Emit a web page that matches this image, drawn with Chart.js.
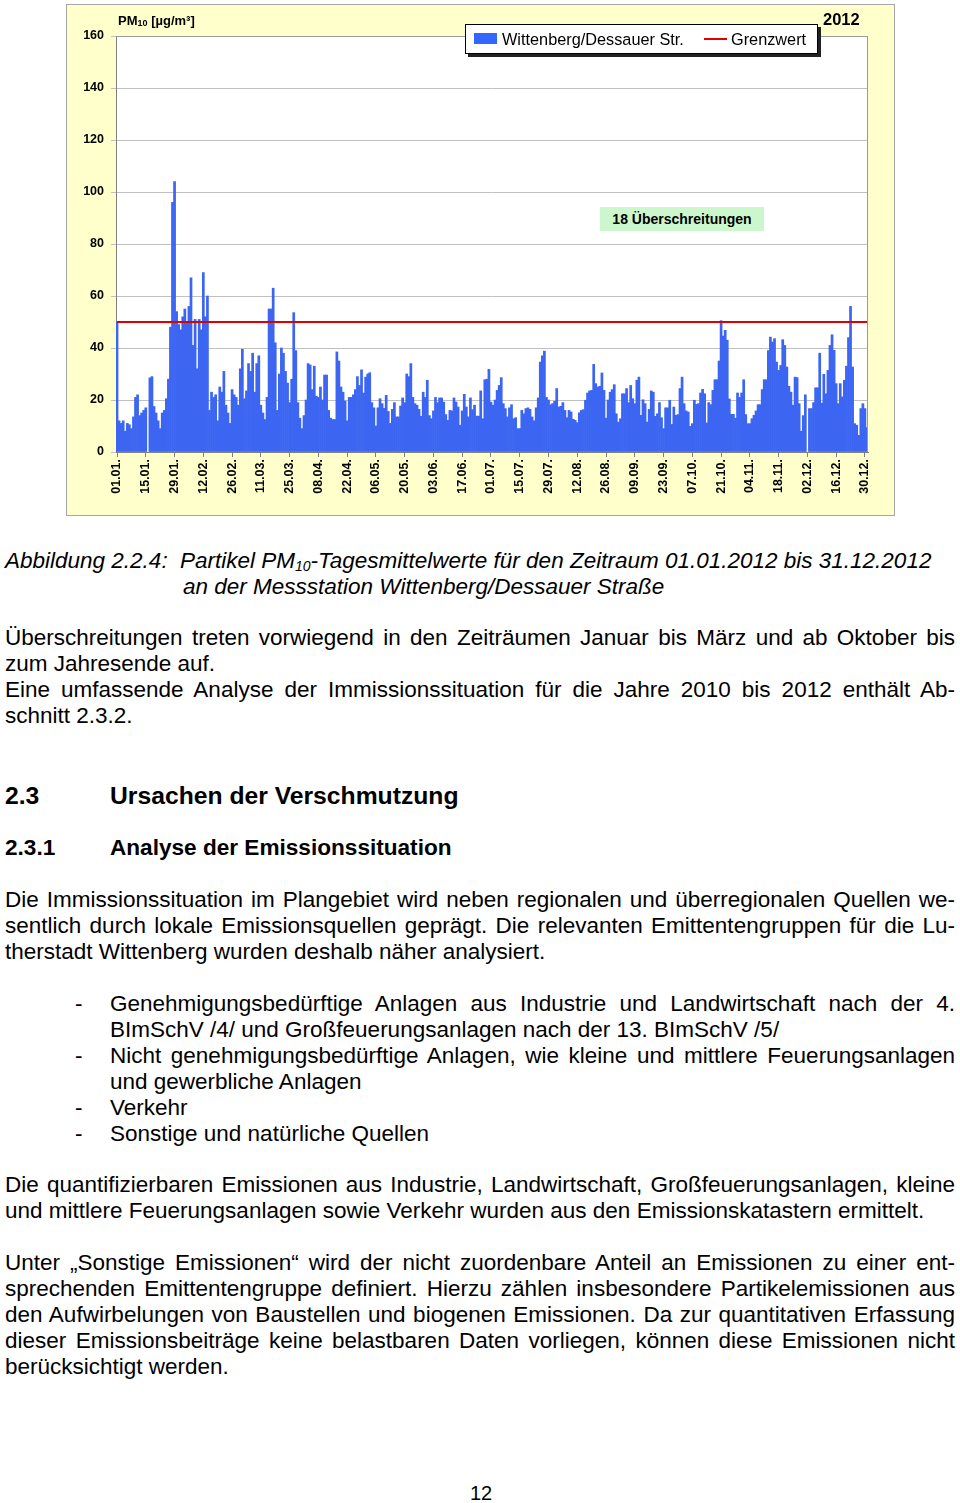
<!DOCTYPE html>
<html><head><meta charset="utf-8">
<script src="https://cdn.jsdelivr.net/npm/chart.js@4.4.1/dist/chart.umd.min.js"></script>
<style>
html,body{margin:0;padding:0;background:#fff;}
body{width:960px;height:1503px;position:relative;overflow:hidden;font-family:"Liberation Sans",Arial,sans-serif;color:#000;}
#chartWrap{position:absolute;left:66px;top:4px;width:829px;height:512px;}
canvas{display:block;}
.ov{position:absolute;white-space:nowrap;}
.pm{left:118px;top:13px;font-size:13px;font-weight:bold;}
.pm sub{font-size:9px;vertical-align:-1px;line-height:0;}
.yr{left:823px;top:10px;font-size:16.5px;font-weight:bold;}
#legend{position:absolute;left:465px;top:24px;width:351px;height:28px;border:1px solid #000;box-shadow:3px 3px 0 #222;background:#fff;}
#legend span{position:absolute;}
#legend .lt{top:0;line-height:28px;font-size:16.3px;white-space:nowrap;}
.green{left:600px;top:207px;width:164px;height:24px;line-height:24px;background:#ccf7cc;text-align:center;font-size:14px;font-weight:bold;}
.txt{position:absolute;left:5px;width:950px;font-size:22.5px;line-height:26px;}
.txt div{white-space:nowrap;}
.j{text-align:justify;text-align-last:justify;}
.cap{font-style:italic;}
.cap sub{font-size:14px;vertical-align:-3px;line-height:0;}
.h{position:absolute;left:5px;font-weight:bold;line-height:26px;white-space:nowrap;}
.h .n{display:inline-block;width:105px;}
.list{position:absolute;left:110px;width:845px;font-size:22.5px;line-height:26px;}
.list div{white-space:nowrap;position:relative;}
.dash{position:absolute;left:-35px;}
</style>
</head><body>
<div id="chartWrap"><canvas id="c" width="829" height="512"></canvas></div>
<div class="ov pm">PM<sub>10</sub> [µg/m³]</div>
<div class="ov yr">2012</div>
<div id="legend">
  <span style="left:8px;top:8px;width:23px;height:11px;background:#3366ff;"></span>
  <span class="lt" style="left:36px;">Wittenberg/Dessauer Str.</span>
  <span style="left:238px;top:13px;width:23px;height:2px;background:#e00000;"></span>
  <span class="lt" style="left:265px;">Grenzwert</span>
</div>
<div class="ov green">18 Überschreitungen</div>

<div class="txt cap" style="top:548px;">
  <div><span style="display:inline-block;width:175px;">Abbildung 2.2.4:</span>Partikel PM<sub>10</sub>-Tagesmittelwerte für den Zeitraum 01.01.2012 bis 31.12.2012</div>
  <div style="padding-left:178px;">an der Messstation Wittenberg/Dessauer Straße</div>
</div>

<div class="txt" style="top:625px;">
  <div class="j">Überschreitungen treten vorwiegend in den Zeiträumen Januar bis März und ab Oktober bis</div>
  <div>zum Jahresende auf.</div>
  <div class="j">Eine umfassende Analyse der Immissionssituation für die Jahre 2010 bis 2012 enthält Ab-</div>
  <div>schnitt 2.3.2.</div>
</div>

<div class="h" style="top:783px;font-size:24.7px;"><span class="n">2.3</span>Ursachen der Verschmutzung</div>
<div class="h" style="top:835px;font-size:22.6px;"><span class="n">2.3.1</span>Analyse der Emissionssituation</div>

<div class="txt" style="top:887px;">
  <div class="j">Die Immissionssituation im Plangebiet wird neben regionalen und überregionalen Quellen we-</div>
  <div class="j">sentlich durch lokale Emissionsquellen geprägt. Die relevanten Emittentengruppen für die Lu-</div>
  <div>therstadt Wittenberg wurden deshalb näher analysiert.</div>
</div>

<div class="list" style="top:991px;">
  <div class="j"><span class="dash">-</span>Genehmigungsbedürftige Anlagen aus Industrie und Landwirtschaft nach der 4.</div>
  <div>BImSchV /4/ und Großfeuerungsanlagen nach der 13. BImSchV /5/</div>
  <div class="j"><span class="dash">-</span>Nicht genehmigungsbedürftige Anlagen, wie kleine und mittlere Feuerungsanlagen</div>
  <div>und gewerbliche Anlagen</div>
  <div><span class="dash">-</span>Verkehr</div>
  <div><span class="dash">-</span>Sonstige und natürliche Quellen</div>
</div>

<div class="txt" style="top:1172px;">
  <div class="j">Die quantifizierbaren Emissionen aus Industrie, Landwirtschaft, Großfeuerungsanlagen, kleine</div>
  <div>und mittlere Feuerungsanlagen sowie Verkehr wurden aus den Emissionskatastern ermittelt.</div>
</div>

<div class="txt" style="top:1250px;">
  <div class="j">Unter „Sonstige Emissionen“ wird der nicht zuordenbare Anteil an Emissionen zu einer ent-</div>
  <div class="j">sprechenden Emittentengruppe definiert. Hierzu zählen insbesondere Partikelemissionen aus</div>
  <div class="j">den Aufwirbelungen von Baustellen und biogenen Emissionen. Da zur quantitativen Erfassung</div>
  <div class="j">dieser Emissionsbeiträge keine belastbaren Daten vorliegen, können diese Emissionen nicht</div>
  <div>berücksichtigt werden.</div>
</div>

<div class="ov" style="left:0;width:962px;text-align:center;top:1480px;font-size:20px;line-height:26px;">12</div>

<script>
// ---- data (PM10 daily means 2012, µg/m³) ----
const q1 = [50,12,11,12,8,11,10.5,9,13.5,21,22,14,15,16,17,null,28.5,29,17.5,15,
  12,9,15,16,20.5,28,48,96,104,54,49,47,52,55,50,56,67,41,51,32,
  51,47,69,52,60,16,23,21,22,12,25,23,31,18,15,11,24,22,21,18,
  32,39.5,20.5,23.5,34,31,38,23,34,37,18,15,12.5,21,55,55,63,42,16,30,
  40,38,31,26.5,19,28,53.6,39,19,13,9];
const q2 = [14,20,34,33.5,24,33,21.5,21,25,
  20,29.6,29.6,16,13,12.5,12.5,38.5,35,25,23,19.6,12,21,21,22,24,29,25.6,31.6,
  22.7,28.8,30,30.5,19,17,10,17,20.5,18.6,16.8,21.8,15.6,11,16.4,19,13.5,13.5,17.7,20.8,
  19,30,29,34,21,18.6,18,16.4,13.7,23,21,27.6,14,12.8,15.8,21,19,20.8,20.8,19.2,
  14.4,12.2,16,15.8,20.8,19.2,17.3,10.3,15.8,22.2,17.3,13.5,20.8,16.3,18,13.8,13.8,23.5,12.8,27.8,
  28,31.8];
const q3 = [19.2,18,20,23.7,25.6,28.6,18.6,16.7,
  13.5,17,18.2,12.8,13.2,9,9,16,14.7,16.7,17,16.4,13.5,12,17,20.8,34.6,37,38.8,21,
  20,18.2,18.6,19.5,24.4,17.3,17.6,19,16,13.2,16,15.4,12.6,12.2,11.3,15.1,16,16.3,19.9,22.7,
  23.5,23.7,33.7,26.3,25,25.3,30.4,23.7,13,20,23,24,25.9,14.7,11.5,12.8,22.4,22.4,24.4,19,
  25.6,20.5,18.6,27.6,28.8,14.1,20.1,18.6,11.5,16.4,23.5,23,13.7,14.7,19,13.2,9,17,17,19.9,
  10.6,17.3,14.1,14.4];
const q4 = [24.4,28.8,18.6,15.8,15.4,9.9,
  10.9,19.9,18.3,18.6,22.7,24.1,22.4,11.2,19,18.2,23.7,27.8,27.8,35,50.5,44.6,46.8,43,20.4,14.5,
  14.5,13,22.7,21,22.7,27.8,14.4,10.9,10.9,12.8,14.1,15.8,18.2,18.2,24,27.8,27.8,39,44.2,42.3,
  43.6,34.6,31.4,33.3,43.2,41,32.7,25.3,23,18,28.8,28.6,18.6,8,14,22,null,16.7,16.7,19,
  24.7,24.7,38,18.8,29.9,22.4,31.4,41,45.1,39.1,26.3,18.6,26.3,21.2,27.6,33,44,56,32.7,10.9,
  10.3,6.4,16.7,18.6,16.7,9.4];
const tickLabels = ['01.01.','15.01.','29.01.','12.02.','26.02.','11.03.','25.03.','08.04.','22.04.',
  '06.05.','20.05.','03.06.','17.06.','01.07.','15.07.','29.07.','12.08.','26.08.','09.09.',
  '23.09.','07.10.','21.10.','04.11.','18.11.','02.12.','16.12.','30.12.'];
const grenzwert = 50;
const yTicks = {min:0, max:160, step:20};

// categories: every day of 2012
const days = [];
for (let t = Date.UTC(2012,0,1); t <= Date.UTC(2012,11,31); t += 86400000) {
  const d = new Date(t);
  days.push(String(d.getUTCDate()).padStart(2,'0') + '.' + String(d.getUTCMonth()+1).padStart(2,'0') + '.');
}
const values = q1.concat(q2, q3, q4);

const framePlugin = {
  id: 'frame',
  beforeDraw(chart) {
    const {ctx, width, height, chartArea: a} = chart;
    ctx.save();
    ctx.fillStyle = '#ffffcc';
    ctx.fillRect(0, 0, width, height);
    ctx.strokeStyle = '#a6a6a6';
    ctx.lineWidth = 1;
    ctx.strokeRect(0.5, 0.5, width - 1, height - 1);
    ctx.fillStyle = '#ffffff';
    ctx.fillRect(a.left, a.top, a.right - a.left, a.bottom - a.top);
    ctx.restore();
  },
  afterDatasetsDraw(chart) {
    const {ctx, chartArea: a, scales} = chart;
    const y = scales.y.getPixelForValue(grenzwert);
    ctx.save();
    ctx.strokeStyle = '#e00000';
    ctx.lineWidth = 2;
    ctx.beginPath();
    ctx.moveTo(a.left + 1, y);
    ctx.lineTo(a.right, y);
    ctx.stroke();
    ctx.strokeStyle = '#9a9a9a';
    ctx.lineWidth = 1;
    ctx.beginPath();
    ctx.moveTo(a.left, a.top + 0.5);
    ctx.lineTo(a.right - 0.5, a.top + 0.5);
    ctx.lineTo(a.right - 0.5, a.bottom);
    ctx.stroke();
    ctx.restore();
  }
};

new Chart(document.getElementById('c'), {
  type: 'bar',
  data: {
    labels: days,
    datasets: [{
      label: 'Wittenberg/Dessauer Str.',
      data: values,
      backgroundColor: '#3c66f2',
      borderWidth: 0,
      barPercentage: 1,
      categoryPercentage: 1
    }]
  },
  options: {
    responsive: false,
    devicePixelRatio: 1,
    animation: false,
    layout: {padding: {left: 0, right: 27, top: 32, bottom: 8}},
    plugins: {legend: {display: false}, tooltip: {enabled: false}},
    scales: {
      x: {
        offset: true,
        grid: {display: true, drawOnChartArea: false, drawTicks: true, tickLength: 5, color: '#808080', offset: false},
        border: {display: true, color: '#808080'},
        ticks: {
          autoSkip: false, maxRotation: 90, minRotation: 90, padding: 2,
          color: '#000', font: {family: 'Liberation Sans', size: 12.5, weight: 'bold'},
          callback(v, i) { const l = days[i]; return tickLabels.includes(l) ? l : null; }
        },
        afterFit(scale) { scale.height = 56; }
      },
      y: {
        min: yTicks.min, max: yTicks.max,
        grid: {color: '#c0c0c0', tickLength: 5, drawTicks: true},
        border: {display: true, color: '#808080'},
        ticks: {stepSize: yTicks.step, padding: 7, color: '#000', font: {family: 'Liberation Sans', size: 12.5, weight: 'bold'}},
        afterFit(scale) { scale.width = 50; }
      }
    }
  },
  plugins: [framePlugin]
});
</script>
</body></html>
